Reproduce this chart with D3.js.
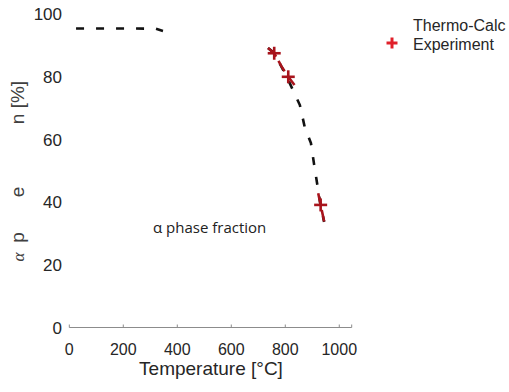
<!DOCTYPE html>
<html>
<head>
<meta charset="utf-8">
<script src="https://cdn.jsdelivr.net/npm/d3@7"></script>
<style>
    body { margin: 0; background: #fff; }
    svg { display: block; }
    text { font-family: "Liberation Sans", Arial, sans-serif; }
</style>
</head>
<body>
<div id="chart"></div>
<script>
// Thermo-Calc curve (null = no data between the two pieces)
const tcTemp = [25, 120, 220, 320, 347, null, 736, 759, 806, 854, 872, 895, 906, 931, 944];
const tcFrac = [95.4, 95.4, 95.4, 95.3, 94.6, null, 89.2, 87.6, 79.9, 71.0, 64.0, 58.9, 52.5, 38.9, 33.8];

// experiment points and the red curve pieces around them
const expTemp = [759, 811, 931];
const expFrac = [87.5, 80.0, 39.2];
const expLineTemp = [736, 759, 786, 811, 839, null, 922, 931, 944];
const expLineFrac = [89.2, 87.5, 83.3, 80.0, 76.8, null, 42.9, 39.2, 33.9];

const xTicks = [0, 200, 400, 600, 800, 1000];
const yTicks = [0, 20, 40, 60, 80, 100];
const legendLabels = ['Thermo-Calc', 'Experiment'];

const width = 509;
const height = 392;
const red = '#a8141c';
const textColor = '#262626';

const svg = d3.select('#chart').append('svg')
    .attr('width', width)
    .attr('height', height);

const xScale = d3.scaleLinear().domain([0, 1046]).range([69.3, 351.7]);
const yScale = d3.scaleLinear().domain([0, 100]).range([328, 14]);

const toPoints = (xs, ys) => xs.map((x, i) => x === null ? null : [x, ys[i]]);

const line = d3.line()
    .defined(d => d !== null)
    .x(d => xScale(d[0]))
    .y(d => yScale(d[1]));

// x axis: thin grey line with small upward ticks
const xAxis = svg.append('g').attr('transform', 'translate(0, 327.5)');
xAxis.append('line')
    .attr('x1', xScale(0))
    .attr('x2', xScale(1046))
    .attr('stroke', '#8c8c8c')
    .attr('stroke-width', 1);
xAxis.selectAll('.tick')
    .data(xTicks.concat([1046]))
    .enter()
    .append('line')
    .attr('x1', d => xScale(d))
    .attr('x2', d => xScale(d))
    .attr('y1', 0)
    .attr('y2', -3)
    .attr('stroke', '#8c8c8c');

svg.selectAll('.xlabel')
    .data(xTicks)
    .enter()
    .append('text')
    .attr('x', d => xScale(d))
    .attr('y', 355)
    .attr('text-anchor', 'middle')
    .attr('font-size', 16)
    .attr('fill', textColor)
    .text(d => d);

svg.selectAll('.ylabel')
    .data(yTicks)
    .enter()
    .append('text')
    .attr('x', 62)
    .attr('y', d => yScale(d) + 6)
    .attr('text-anchor', 'end')
    .attr('font-size', 17)
    .attr('fill', textColor)
    .text(d => d);

svg.append('text')
    .attr('x', 211)
    .attr('y', 375)
    .attr('text-anchor', 'middle')
    .attr('font-size', 19)
    .attr('fill', textColor)
    .text('Temperature [°C]');

// broken-up y axis title
const yTitle = [
    {t: 'n [%]', y: 102.5, size: 19, font: '"Liberation Sans", Arial, sans-serif'},
    {t: 'e', y: 192, size: 19, font: '"Liberation Sans", Arial, sans-serif'},
    {t: 'p', y: 237.5, size: 19, font: '"Liberation Sans", Arial, sans-serif'},
    {t: 'α', y: 257, size: 17, font: '"Liberation Serif", serif'}
];
svg.selectAll('.ytitle')
    .data(yTitle)
    .enter()
    .append('text')
    .attr('transform', d => `translate(24, ${d.y}) rotate(-90)`)
    .attr('text-anchor', 'middle')
    .attr('font-size', d => d.size)
    .style('font-family', d => d.font)
    .style('font-style', d => d.t === 'α' ? 'italic' : 'normal')
    .attr('fill', '#404040')
    .text(d => d.t);

// Thermo-Calc dashed curve
svg.append('path')
    .datum(toPoints(tcTemp, tcFrac))
    .attr('d', line)
    .attr('fill', 'none')
    .attr('stroke', '#111')
    .attr('stroke-width', 2.6)
    .attr('stroke-dasharray', '8,12');

// experiment
svg.append('path')
    .datum(toPoints(expLineTemp, expLineFrac))
    .attr('d', line)
    .attr('fill', 'none')
    .attr('stroke', red)
    .attr('stroke-width', 2.6)
    .attr('stroke-dasharray', '12,5');

const drawPlus = (g, cx, cy, r, color, w) => {
    g.append('line').attr('x1', cx - r).attr('x2', cx + r).attr('y1', cy).attr('y2', cy)
        .attr('stroke', color).attr('stroke-width', w);
    g.append('line').attr('x1', cx).attr('x2', cx).attr('y1', cy - r).attr('y2', cy + r)
        .attr('stroke', color).attr('stroke-width', w);
};

const markers = svg.append('g');
expTemp.forEach((t, i) => {
    drawPlus(markers, xScale(t), yScale(expFrac[i]), 6.5, red, 2.6);
});

// annotation
svg.append('text')
    .attr('x', 153)
    .attr('y', 233)
    .attr('font-size', 15)
    .style('font-family', '"Open Sans", "Noto Sans", sans-serif')
    .attr('fill', '#222')
    .text('α phase fraction');

// legend
const legend = svg.append('g');
legend.selectAll('text')
    .data(legendLabels)
    .enter()
    .append('text')
    .attr('x', 413)
    .attr('y', (_, i) => 31 + i * 19)
    .attr('font-size', 16)
    .attr('fill', textColor)
    .text(d => d);
drawPlus(legend, 392, 43, 5.5, '#e0202a', 3);
</script>
</body>
</html>
